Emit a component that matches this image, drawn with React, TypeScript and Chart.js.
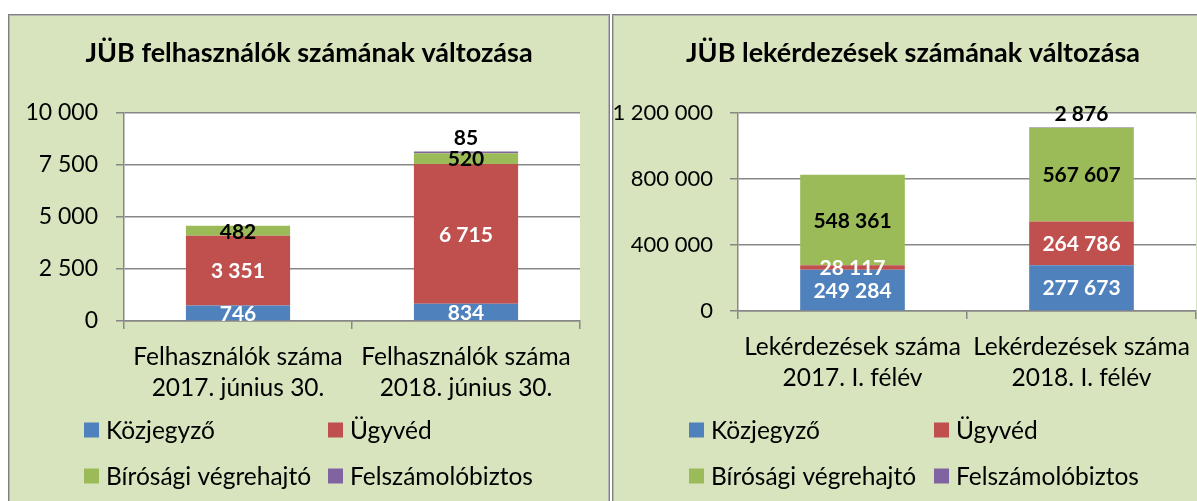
import React, { useEffect, useRef } from "react";
import { Chart, registerables } from "chart.js";

Chart.register(...registerables);

// ---------- data ----------
const seriesNames = ["Közjegyző", "Ügyvéd", "Bírósági végrehajtó", "Felszámolóbiztos"];
const seriesColors = ["#4f81bd", "#c0504d", "#9bbb59", "#8064a2"];
const seriesLabelColors = ["#ffffff", "#ffffff", "#000000", "#000000"];

const usersTitle = "JÜB felhasználók számának változása";
const usersCategories = [
  ["Felhasználók száma", "2017. június 30."],
  ["Felhasználók száma", "2018. június 30."],
];
const usersKozjegyzo = [746, 834];
const usersUgyved = [3351, 6715];
const usersBirosagi = [482, 520];
const usersFelszamolo = [0, 85];
const usersYTicks = [0, 2500, 5000, 7500, 10000];

const queriesTitle = "JÜB lekérdezések számának változása";
const queriesCategories = [
  ["Lekérdezések száma", "2017. I. félév"],
  ["Lekérdezések száma", "2018. I. félév"],
];
const queriesKozjegyzo = [249284, 277673];
const queriesUgyved = [28117, 264786];
const queriesBirosagi = [548361, 567607];
const queriesFelszamolo = [0, 2876];
const queriesYTicks = [0, 400000, 800000, 1200000];

// ---------- helpers ----------
const FONT = "Lato, 'Open Sans', sans-serif";
const GRID = "#878787";

function fmt(v: number): string {
  return String(Math.round(v)).replace(/\B(?=(\d{3})+(?!\d))/g, " ");
}

type PanelProps = {
  title: string;
  categories: string[][];
  series: number[][];
  yTicks: number[];
  left: number;
  layout: {
    axisWidth: number;
    labelPad: number;
    tickFont: number;
    padRight: number;
    padBottom: number;
    legendX1: number;
    legendX2: number;
  };
};

const W = 600;
const H = 490;

function Panel(props: PanelProps) {
  const ref = useRef<HTMLCanvasElement | null>(null);

  useEffect(() => {
    const canvas = ref.current;
    if (!canvas) return;
    const { title, categories, series, yTicks, layout } = props;

    const decor = {
      id: "decor",
      beforeDraw(chart: any) {
        const { ctx, chartArea: a } = chart;
        ctx.save();
        ctx.fillStyle = "#ffffff";
        ctx.fillRect(a.left, a.top, a.right - a.left, a.bottom - a.top);
        ctx.restore();
      },
      afterDatasetsDraw(chart: any) {
        const ctx = chart.ctx;
        ctx.save();
        ctx.font = `bold 21px ${FONT}`;
        ctx.textAlign = "center";
        ctx.textBaseline = "middle";
        chart.data.datasets.forEach((ds: any, di: number) => {
          const meta = chart.getDatasetMeta(di);
          meta.data.forEach((el: any, i: number) => {
            const v = ds.data[i];
            if (!v) return;
            const y = di === 3 ? el.y - 14 : (el.y + el.base) / 2;
            ctx.fillStyle = seriesLabelColors[di];
            ctx.fillText(fmt(v), el.x, y + 1);
          });
        });
        ctx.restore();
      },
      afterDraw(chart: any) {
        const ctx = chart.ctx;
        ctx.save();
        ctx.fillStyle = "#000000";
        ctx.font = `bold 27px ${FONT}`;
        ctx.textAlign = "center";
        ctx.textBaseline = "middle";
        ctx.fillText(title, W / 2, 38);
        ctx.font = `24.5px ${FONT}`;
        ctx.textAlign = "left";
        const rows = [415, 461];
        const cols = [layout.legendX1, layout.legendX2];
        seriesNames.forEach((name, i) => {
          const x = cols[i % 2];
          const y = rows[Math.floor(i / 2)];
          ctx.fillStyle = seriesColors[i];
          ctx.fillRect(x, y - 7.5, 15, 15);
          ctx.fillStyle = "#000000";
          ctx.fillText(name, x + 22, y + 1);
        });
        ctx.restore();
      },
    };

    const chart = new Chart(canvas, {
      type: "bar",
      data: {
        labels: categories as any,
        datasets: series.map((d, i) => ({
          label: seriesNames[i],
          data: d,
          backgroundColor: seriesColors[i],
          borderWidth: 0,
          barPercentage: 0.457,
          categoryPercentage: 1,
        })),
      },
      options: {
        responsive: false,
        animation: false,
        devicePixelRatio: 1,
        layout: {
          padding: { top: 98, left: 0, right: layout.padRight, bottom: layout.padBottom },
        },
        plugins: {
          legend: { display: false },
          title: { display: false },
          tooltip: { enabled: false },
        },
        scales: {
          x: {
            stacked: true,
            afterFit: (s: any) => {
              s.height = 100;
            },
            grid: {
              offset: true,
              drawOnChartArea: false,
              drawTicks: true,
              tickLength: 8,
              color: GRID,
              lineWidth: 1.5,
            },
            border: { display: true, color: GRID, width: 1.5 },
            ticks: {
              autoSkip: false,
              maxRotation: 0,
              minRotation: 0,
              padding: 13,
              color: "#000000",
              font: { family: FONT, size: 24.5, lineHeight: 31 / 24.5 },
            },
          },
          y: {
            stacked: true,
            min: yTicks[0],
            max: yTicks[yTicks.length - 1],
            afterFit: (s: any) => {
              s.width = layout.axisWidth;
            },
            afterBuildTicks: (s: any) => {
              s.ticks = yTicks.map((v) => ({ value: v }));
            },
            grid: {
              color: GRID,
              lineWidth: 1.5,
              drawTicks: true,
              tickLength: 8,
            },
            border: { display: true, color: GRID, width: 1.5 },
            ticks: {
              padding: layout.labelPad,
              color: "#000000",
              font: { family: FONT, size: layout.tickFont },
              callback: (v: any) => fmt(Number(v)),
            },
          },
        },
      },
      plugins: [decor],
    } as any);

    return () => chart.destroy();
  }, []);

  return (
    <div
      style={{
        position: "absolute",
        left: props.left,
        top: 14,
        width: W,
        height: H,
        background: "#d7e4bd",
        border: "1px solid #7f7f7f",
        boxShadow: "inset 0 0 0 1px #b4b4b4",
      }}
    >
      <canvas ref={ref} width={W} height={H} style={{ display: "block", width: W, height: H }} />
    </div>
  );
}

export default function App() {
  return (
    <div
      style={{
        position: "fixed",
        left: 0,
        top: 0,
        width: 1197,
        height: 501,
        overflow: "hidden",
        background: "#ffffff",
      }}
    >
      <Panel
        title={usersTitle}
        categories={usersCategories}
        series={[usersKozjegyzo, usersUgyved, usersBirosagi, usersFelszamolo]}
        yTicks={usersYTicks}
        left={8}
        layout={{ axisWidth: 115, labelPad: 18, tickFont: 23, padRight: 29, padBottom: 84, legendX1: 75, legendX2: 319 }}
      />
      <Panel
        title={queriesTitle}
        categories={queriesCategories}
        series={[queriesKozjegyzo, queriesUgyved, queriesBirosagi, queriesFelszamolo]}
        yTicks={queriesYTicks}
        left={612}
        layout={{ axisWidth: 125, labelPad: 17, tickFont: 22, padRight: 17, padBottom: 94, legendX1: 76, legendX2: 321 }}
      />
    </div>
  );
}
